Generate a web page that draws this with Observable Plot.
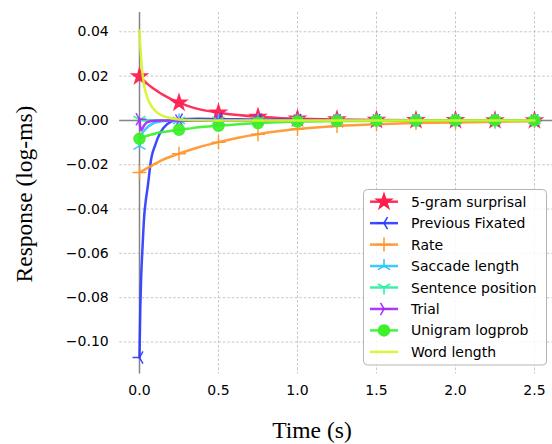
<!DOCTYPE html>
<html>
<head>
<meta charset="utf-8">
<script src="https://cdn.jsdelivr.net/npm/d3@7"></script>
<script src="https://cdn.jsdelivr.net/npm/@observablehq/plot@0.6"></script>
<style>
  html, body { margin: 0; padding: 0; background: #fff; }
  #chart { width: 552px; height: 444px; }
</style>
</head>
<body>
<div id="chart"></div>
<script>
// ---------- data ----------
const times = [0, 0.005, 0.01, 0.02, 0.03, 0.04, 0.05, 0.075, 0.1, 0.125, 0.15, 0.2, 0.25, 0.3, 0.375, 0.5, 0.625, 0.75, 0.875, 1.0, 1.25, 1.5, 1.75, 2.0, 2.25, 2.5];

const seriesNames = ["5-gram surprisal", "Previous Fixated", "Rate", "Saccade length", "Sentence position", "Trial", "Unigram logprob", "Word length"];
const seriesColors = ["#ff1f4f", "#2b3bff", "#ff952a", "#2ac4ff", "#2af0a3", "#a52aff", "#3cf02a", "#d6f52a"];
const seriesMarkers = ["star", "triLeft", "plus", "triUp", "triDown", "triRight", "circle", "none"];

const fiveGram     = [0.0198, 0.0194, 0.0191, 0.0184, 0.0178, 0.0171, 0.0165, 0.0151, 0.0138, 0.0126, 0.0115, 0.0096, 0.0080, 0.0067, 0.0051, 0.0035, 0.0024, 0.0016, 0.0011, 0.0008, 0.0004, 0.0002, 0.0001, 0.0001, 0.0, 0.0];
const prevFixated  = [-0.107, -0.085, -0.072, -0.056, -0.043, -0.036, -0.031, -0.017, -0.011, -0.0065, -0.0035, -0.0005, 0.0003, 0.0006, 0.0007, 0.0006, 0.0005, 0.0004, 0.0003, 0.0002, 0.0001, 0.0001, 0.0, 0.0, 0.0, 0.0];
const rate         = [-0.0235, -0.0233, -0.0231, -0.0227, -0.0223, -0.0219, -0.0215, -0.0205, -0.0195, -0.0186, -0.0177, -0.0163, -0.0150, -0.0138, -0.0121, -0.0098, -0.0078, -0.0062, -0.0049, -0.0039, -0.0025, -0.0017, -0.0012, -0.0009, -0.0006, -0.0004];
const saccadeLen   = [-0.0115, -0.0085, -0.0068, -0.0055, -0.0046, -0.0038, -0.0031, -0.0018, -0.0010, -0.0006, -0.0003, -0.0001, 0.0, 0.0, 0.0, 0.0, 0.0, 0.0, 0.0, 0.0, 0.0, 0.0, 0.0, 0.0, 0.0, 0.0];
const sentencePos  = [0.0003, 0.0002, 0.0002, 0.0001, 0.0001, 0.0001, 0.0001, 0.0001, 0.0001, 0.0, 0.0, 0.0, 0.0, 0.0, 0.0, 0.0, 0.0, 0.0, 0.0, 0.0, 0.0, 0.0, 0.0, 0.0, 0.0, 0.0];
const trial        = [0.0005, -0.003, -0.0045, -0.0035, -0.0022, -0.0013, -0.0008, -0.0003, -0.0001, 0.0, 0.0, 0.0, 0.0, 0.0, 0.0, 0.0, 0.0, 0.0, 0.0, 0.0, 0.0, 0.0, 0.0, 0.0, 0.0, 0.0];
const unigram      = [-0.0083, -0.0082, -0.0080, -0.0077, -0.0074, -0.0071, -0.0069, -0.0064, -0.0059, -0.0055, -0.0052, -0.0047, -0.0042, -0.0038, -0.0031, -0.0024, -0.0017, -0.0012, -0.0008, -0.0005, -0.0003, -0.0001, -0.0001, 0.0, 0.0, 0.0];
const wordLength   = [0.0406, 0.0335, 0.0285, 0.0205, 0.0155, 0.0125, 0.0102, 0.0065, 0.0043, 0.0029, 0.0020, 0.0010, 0.0004, 0.0002, 0.0001, 0.0, 0.0, 0.0, 0.0, 0.0, 0.0, 0.0, 0.0, 0.0, 0.0, 0.0];

const seriesValues = [fiveGram, prevFixated, rate, saccadeLen, sentencePos, trial, unigram, wordLength];

const xTicks = [0, 0.5, 1.0, 1.5, 2.0, 2.5];
const yTicks = [-0.10, -0.08, -0.06, -0.04, -0.02, 0.00, 0.02, 0.04];
const xLabel = "Time (s)";
const yLabel = "Response (log-ms)";

// ---------- custom matplotlib-like marker symbols ----------
const S3 = Math.sqrt(3) / 2;
function arms(list) {
  return {
    draw(ctx, size) {
      const r = Math.sqrt(size / Math.PI);
      for (const [a, b] of list) { ctx.moveTo(0, 0); ctx.lineTo(a * r, b * r); }
    }
  };
}
const symbols = {
  triLeft: arms([[-1, 0], [0.5, -S3], [0.5, S3]]),
  triRight: arms([[1, 0], [-0.5, -S3], [-0.5, S3]]),
  triUp: arms([[0, -1], [-S3, 0.5], [S3, 0.5]]),
  triDown: arms([[0, 1], [-S3, -0.5], [S3, -0.5]]),
  plus: {
    draw(ctx, size) {
      const r = Math.sqrt(size / Math.PI);
      ctx.moveTo(-r, 0); ctx.lineTo(r, 0);
      ctx.moveTo(0, -r); ctx.lineTo(0, r);
    }
  },
  star: "star",
  circle: "circle"
};
const markerR = {star: 4.8, circle: 5.5, plus: 7, triLeft: 7, triRight: 7, triUp: 7, triDown: 7};
const filled = {star: true, circle: true};

// ---------- build rows ----------
const rows = [];
seriesNames.forEach((name, k) => {
  times.forEach((t, i) => rows.push({series: name, k, t, v: seriesValues[k][i]}));
});
const isMarkerTime = t => Math.abs(t * 4 - Math.round(t * 4)) < 1e-9;

const marks = [
  Plot.gridX(xTicks, {stroke: "#b8b8b8", strokeOpacity: 1, strokeWidth: 0.8, strokeDasharray: "2.5,2"}),
  Plot.gridY(yTicks, {stroke: "#b8b8b8", strokeOpacity: 1, strokeWidth: 0.8, strokeDasharray: "2.5,2"}),
  Plot.ruleX([0], {stroke: "#858585", strokeWidth: 1.5}),
  Plot.ruleY([0], {stroke: "#858585", strokeWidth: 1.5}),
  Plot.axisX(xTicks, {tickSize: 0, tickPadding: 11, tickFormat: d3.format(".1f"), label: null, fontSize: 14}),
  Plot.axisY(yTicks, {tickSize: 0, tickPadding: 11, tickFormat: d3.format(".2f"), label: null, fontSize: 14})
];

seriesNames.forEach((name, k) => {
  const data = rows.filter(d => d.k === k);
  const color = seriesColors[k];
  marks.push(Plot.line(data, {x: "t", y: "v", stroke: color, strokeWidth: 2.5, strokeOpacity: 0.92, curve: "monotone-x"}));
  const m = seriesMarkers[k];
  if (m !== "none") {
    marks.push(Plot.dot(data.filter(d => isMarkerTime(d.t)), {
      x: "t", y: "v", symbol: symbols[m], r: markerR[m],
      stroke: color, strokeWidth: 1.5, fill: filled[m] ? color : "none",
      fillOpacity: 0.92, strokeOpacity: 0.92
    }));
  }
});

const chart = Plot.plot({
  width: 552,
  height: 444,
  marginLeft: 119.25,
  marginRight: 0,
  marginTop: 12,
  marginBottom: 70.6,
  x: {domain: [-0.125, 2.614]},
  y: {domain: [-0.1144, 0.0487]},
  style: {fontFamily: "'DejaVu Sans', sans-serif", fontSize: "14px", color: "#000", background: "#fff", overflow: "visible"},
  marks
});

document.getElementById("chart").appendChild(chart);

// ---------- axis labels & legend (added to the SVG) ----------
const svg = d3.select(chart);
svg.append("text")
  .attr("x", 312).attr("y", 438)
  .attr("text-anchor", "middle")
  .attr("font-family", "'Liberation Serif', 'Times New Roman', serif")
  .attr("font-size", 23.5)
  .attr("fill", "#000")
  .text(xLabel);
svg.append("text")
  .attr("transform", "translate(32,194) rotate(-90)")
  .attr("text-anchor", "middle")
  .attr("font-family", "'Liberation Serif', 'Times New Roman', serif")
  .attr("font-size", 23.5)
  .attr("fill", "#000")
  .text(yLabel);

const lg = svg.append("g");
lg.append("rect")
  .attr("x", 363.5).attr("y", 189.5).attr("width", 183).attr("height", 175.5)
  .attr("rx", 4).attr("fill", "#fff").attr("fill-opacity", 0.85)
  .attr("stroke", "#b5b5b5").attr("stroke-width", 1);
seriesNames.forEach((name, k) => {
  const y = 201.7 + k * 21.45;
  const color = seriesColors[k];
  lg.append("line").attr("x1", 370).attr("x2", 398).attr("y1", y).attr("y2", y)
    .attr("stroke", color).attr("stroke-width", 2.5).attr("stroke-opacity", 0.92);
  const m = seriesMarkers[k];
  if (m !== "none") {
    const sym = typeof symbols[m] === "string"
      ? (m === "star" ? d3.symbolStar : d3.symbolCircle) : symbols[m];
    const r = markerR[m];
    lg.append("path")
      .attr("transform", `translate(384,${y})`)
      .attr("d", d3.symbol(sym, r * r * Math.PI)())
      .attr("stroke", color).attr("stroke-width", 1.5)
      .attr("fill", filled[m] ? color : "none");
  }
  lg.append("text").attr("x", 411).attr("y", y).attr("dy", "0.36em")
    .attr("text-anchor", "start")
    .attr("font-family", "'DejaVu Sans', sans-serif").attr("font-size", 14)
    .attr("fill", "#000").text(name);
});
</script>
</body>
</html>
